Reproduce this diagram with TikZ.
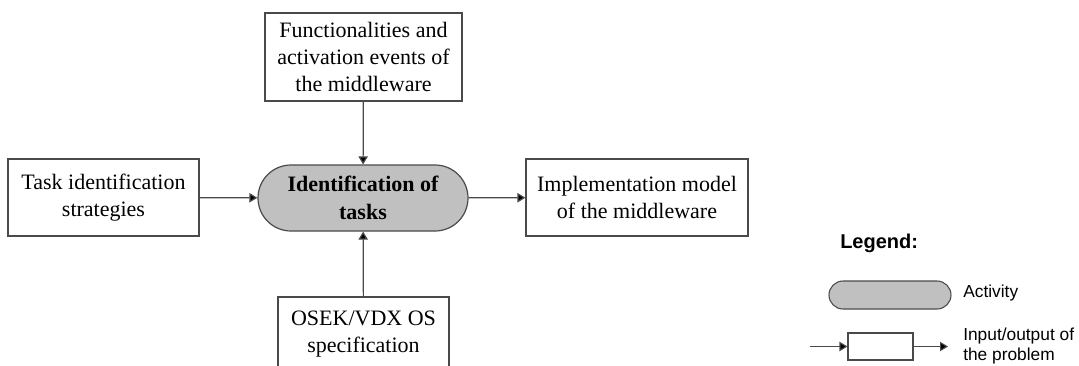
\documentclass[tikz,border=0pt]{standalone}
\usepackage{fontspec}
\setmainfont{Liberation Serif}
\setsansfont{Liberation Sans}
\usetikzlibrary{shapes.misc,arrows.meta}
\definecolor{actgray}{HTML}{C0C0C0}
\definecolor{linegray}{HTML}{4A4A4A}
\newdimen\pxu \pxu=0.75pt
\begin{document}
\begin{tikzpicture}[x=0.75pt,y=-0.75pt,>={Triangle[length=6pt,width=7pt,fill=black]},
    iobox/.style={draw=linegray,line width=0.9pt,fill=white,inner sep=0pt,align=center,
        font=\fontsize{16.5}{20.6}\selectfont},
    actbox/.style={rounded rectangle,draw=linegray,line width=0.9pt,fill=actgray,inner sep=0pt,align=center,
        font=\fontsize{16.5}{20.6}\selectfont\bfseries},
    legtext/.style={anchor=west,align=left,inner sep=0pt,font=\sffamily\fontsize{13}{14.5}\selectfont},
    flow/.style={->,draw=linegray,line width=0.9pt}]
    \useasboundingbox (0,0) rectangle (1079,365);
    \clip (0,0) rectangle (1079,365);
    %main activity and its inputs / output
    \node[actbox,minimum width=210\pxu,minimum height=66\pxu] (ident) at (363,198) {Identification of\\tasks};
    \node[iobox,minimum width=197\pxu,minimum height=88\pxu] (func) at (363.5,57) {Functionalities and\\activation events of\\the middleware};
    \node[iobox,minimum width=191\pxu,minimum height=77\pxu] (strat) at (103.5,197.5) {Task identification\\strategies};
    \node[iobox,minimum width=222\pxu,minimum height=77\pxu] (impl) at (637,197.5) {Implementation model\\of the middleware};
    \node[iobox,minimum width=171\pxu,minimum height=74\pxu] (osek) at (363.5,334) {OSEK/VDX OS\\specification};
    \draw[flow] (func) -- (ident);
    \draw[flow] (osek) -- (ident);
    \draw[flow] (strat) -- (ident);
    \draw[flow] (ident) -- (impl);
    %legend
    \node[anchor=base west,inner sep=0pt,font=\sffamily\bfseries\fontsize{15}{18}\selectfont] (legtitle) at (840,248) {Legend:};
    \node[rounded rectangle,draw=linegray,line width=0.8pt,fill=actgray,minimum width=122\pxu,minimum height=28\pxu,inner sep=0pt] (legact) at (890,295) {};
    \node[legtext] (legacttxt) at (963,293) {Activity};
    \node[draw=linegray,line width=0.8pt,fill=white,minimum width=65\pxu,minimum height=27\pxu,inner sep=0pt] (legio) at (880.5,346.5) {};
    \coordinate (legin) at (810,346.5);
    \coordinate (legout) at (948,346.5);
    \draw[flow,line width=0.8pt] (legin) -- (legio);
    \draw[flow,line width=0.8pt] (legio) -- (legout);
    \node[legtext] (legiotxt) at (963,346) {Input/output of\\the problem};
\end{tikzpicture}
\end{document}
